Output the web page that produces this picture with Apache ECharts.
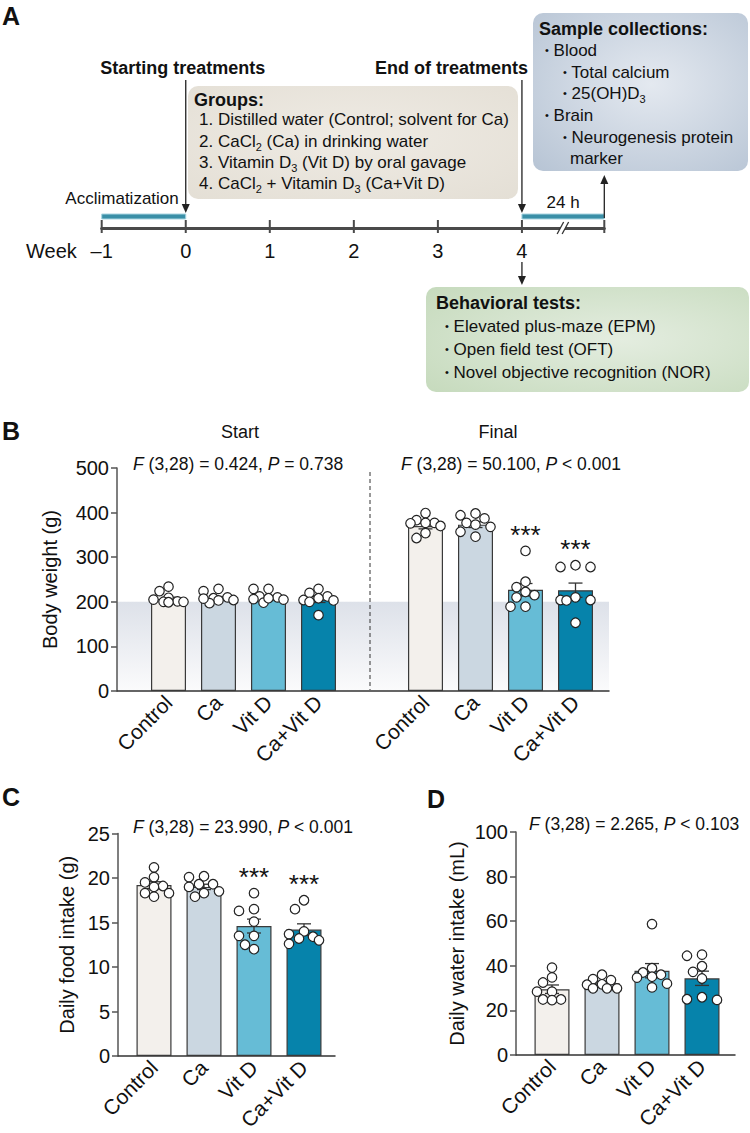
<!DOCTYPE html>
<html><head><meta charset="utf-8">
<script src="https://cdn.jsdelivr.net/npm/echarts/dist/echarts.min.js"></script>
<style>html,body{margin:0;padding:0;background:#fff}#c{width:750px;height:1133px}</style>
</head><body><div id="c"></div>
<script>
// ================= DATA =================
const groups = ['Control', 'Ca', 'Vit D', 'Ca+Vit D'];

// Panel A timeline (weeks)
const weekTicks = [-1, 0, 1, 2, 3, 4];
const timelineEnd = 4.98;                 // sample collection (24 h after week 4, axis broken)
const periodStart = [-1, 4];
const periodEnd = [0, 4.98];
const periodLabels = ['Acclimatization', '24 h'];
const eventWeeks = [0, 4];
const eventLabels = ['Starting treatments', 'End of treatments'];
const outcomeWeeks = [4, 4.98];
const groupLines = [
  '1. Distilled water (Control; solvent for Ca)',
  '2. CaCl{s|2} (Ca) in drinking water',
  '3. Vitamin D{s|3} (Vit D) by oral gavage',
  '4. CaCl{s|2} + Vitamin D{s|3} (Ca+Vit D)'
];
const sampleTitle = 'Sample collections:';
const sampleLines = ['Blood', 'Total calcium', '25(OH)D{s|3}', 'Brain', 'Neurogenesis protein', 'marker'];
const behaviorTitle = 'Behavioral tests:';
const behaviorLines = ['Elevated plus-maze (EPM)', 'Open field test (OFT)', 'Novel objective recognition (NOR)'];

// Panel B body weight (g)
const bwStartMean = [206, 208, 210, 205];
const bwStartSem = [4.3, 3.8, 3.6, 6.5];
const bwStartPoints = [
  [234, 224, 205, 209, 201, 200, 200, 199],
  [224, 229, 208, 210, 203, 204, 197, 207],
  [229, 229, 210, 212, 206, 205, 198, 208],
  [229, 220, 212, 208, 203, 204, 200, 170]
];
const bwFinalMean = [370, 373, 227, 226];
const bwFinalSem = [6.5, 6.5, 14, 16];
const bwFinalPoints = [
  [399, 383, 377, 376, 377, 370, 354, 343],
  [394, 398, 387, 377, 373, 368, 357, 346],
  [314, 245, 233, 222, 215, 210, 189, 189],
  [282, 278, 278, 210, 204, 204, 203, 153]
];
const bwStartSig = ['', '', '', ''];
const bwFinalSig = ['', '', '***', '***'];
const bwTicks = [0, 100, 200, 300, 400, 500];
const bwBand = [0, 200];

// Panel C daily food intake (g)
const foodMean = [19.2, 19.0, 14.6, 14.2];
const foodSem = [0.38, 0.3, 0.78, 0.65];
const foodPoints = [
  [21.2, 20.1, 19.5, 19.1, 19.0, 18.3, 18.3, 17.9],
  [20.2, 20.1, 19.3, 19.3, 19.0, 18.5, 18.3, 17.9],
  [18.3, 16.5, 16.3, 15.1, 13.5, 13.5, 12.5, 12.0],
  [17.5, 16.5, 14.0, 13.7, 13.4, 13.2, 13.0, 12.6]
];
const foodSig = ['', '', '***', '***'];
const foodTicks = [0, 5, 10, 15, 20, 25];

// Panel D daily water intake (mL)
const waterMean = [29.5, 32.2, 37.8, 34.4];
const waterSem = [1.9, 0.9, 3.2, 3.2];
const waterPoints = [
  [39.2, 34.8, 32.5, 28.4, 28.4, 24.9, 24.9, 24.6],
  [36.0, 34.0, 33.6, 31.7, 31.5, 29.9, 29.9, 29.9],
  [58.7, 38.9, 37.0, 36.0, 35.1, 34.7, 32.0, 30.3],
  [45.0, 44.5, 39.8, 37.3, 34.3, 25.9, 25.0, 24.7]
];
const waterSig = ['', '', '', ''];
const waterTicks = [0, 20, 40, 60, 80, 100];

const statTexts = {
  start: '{i|F} (3,28) = 0.424, {i|P} = 0.738',
  final: '{i|F} (3,28) = 50.100, {i|P} < 0.001',
  food: '{i|F} (3,28) = 23.990, {i|P} < 0.001',
  water: '{i|F} (3,28) = 2.265, {i|P} < 0.103'
};

// ================= STYLE / LAYOUT =================
const FONT = '"Liberation Sans", Arial, Helvetica, sans-serif';
const INK = '#111';
const barColors = ['#f3f0ec', '#cbd7e1', '#66bcd6', '#0683ab'];
const PT = 9.5; // point diameter

const grids = [], xAxes = [], yAxes = [], series = [], graphics = [];

function txt(x, y, text, o) {
  o = o || {};
  const align = o.align || 'left';
  const st = {
    text: text, fontFamily: FONT, fontSize: o.fontSize || 17, fontWeight: o.fontWeight || 'normal',
    fill: INK, align: align, textAlign: align, verticalAlign: 'middle', textVerticalAlign: 'middle',
    lineHeight: o.lineHeight || 22
  };
  if (o.rich) st.rich = o.rich;
  return { type: 'text', x: x, y: y, z: 20, silent: true, style: st };
}
function richBase(fs) {
  return {
    i: { fontStyle: 'italic', fontSize: fs, fontFamily: FONT, fill: INK, lineHeight: 22 },
    s: { fontSize: 11, fontFamily: FONT, fill: INK, lineHeight: 12, verticalAlign: 'bottom' },
    b: { fontSize: 11, fontFamily: FONT, fill: INK, lineHeight: 22 }
  };
}

// simple swarm: computes horizontal pixel offsets so points don't stack
function swarm(vals, pxPerUnit) {
  const order = vals.map((v, i) => i).sort((a, b) => vals[b] - vals[a]);
  const cands = [0, -9, 9, -15, 15, -5, 5, -12, 12];
  const placed = [], off = new Array(vals.length).fill(0);
  order.forEach(i => {
    const y = vals[i] * pxPerUnit;
    let best = 0, bestD = -1;
    for (const c of cands) {
      let md = Infinity;
      for (const p of placed) md = Math.min(md, Math.hypot(c - p.x, y - p.y));
      if (md >= PT) { best = c; break; }
      if (md > bestD) { bestD = md; best = c; }
    }
    placed.push({ x: best, y: y });
    off[i] = best;
  });
  return off;
}

function addPanel(p) {
  // outer frame grid: y axis + baseline
  grids.push({ left: p.left, top: p.top, width: p.width, height: p.height, outerBoundsMode: 'none' });
  const go = grids.length - 1;
  xAxes.push({ gridIndex: go, type: 'value', min: 0, max: 1, axisLine: { show: true, onZero: false, lineStyle: { color: '#333', width: 1.5 } },
    axisTick: { show: false }, axisLabel: { show: false }, splitLine: { show: false } });
  const xo = xAxes.length - 1;
  const yMax = p.ticks[p.ticks.length - 1], yInt = p.ticks[1] - p.ticks[0];
  yAxes.push({ gridIndex: go, type: 'value', min: 0, max: yMax, interval: yInt,
    name: p.yName, nameLocation: 'middle', nameGap: p.nameGap, nameRotate: 90,
    nameTextStyle: { fontSize: 20, color: INK, fontFamily: FONT },
    axisLine: { show: true, onZero: false, lineStyle: { color: '#555', width: 1.5 } },
    axisTick: { show: true, length: 6, lineStyle: { color: '#555', width: 1.5 } },
    axisLabel: { fontSize: 20, color: INK, margin: 8, fontFamily: FONT },
    splitLine: { show: false } });
  const yo = yAxes.length - 1;
  if (p.band) {
    series.push({ type: 'line', xAxisIndex: xo, yAxisIndex: yo, data: [[0, 0]], symbol: 'none', silent: true, z: 0,
      lineStyle: { opacity: 0 },
      markArea: { silent: true, z: 0, itemStyle: { color: { type: 'linear', x: 0, y: 0, x2: 0, y2: 1,
        colorStops: [{ offset: 0, color: '#dde1e9' }, { offset: 1, color: '#fbfbfc' }] } },
        data: [[{ yAxis: p.band[1], xAxis: 0 }, { yAxis: p.band[0], xAxis: 1 }]] } });
  }
  const pxPerUnit = p.height / yMax;
  p.sets.forEach(s => {
    grids.push({ left: s.left, top: p.top, width: 200, height: p.height, outerBoundsMode: 'none' });
    const gi = grids.length - 1;
    xAxes.push({ gridIndex: gi, type: 'category', data: groups, axisLine: { show: false }, axisTick: { show: false },
      axisLabel: { rotate: 45, interval: 0, fontSize: 21, color: INK, margin: 8, fontFamily: FONT } });
    const xi = xAxes.length - 1;
    yAxes.push({ gridIndex: gi, type: 'value', min: 0, max: yMax, show: false });
    const yi = yAxes.length - 1;
    series.push({ type: 'bar', xAxisIndex: xi, yAxisIndex: yi, barWidth: 35, z: 2, silent: true,
      data: s.mean.map((m, i) => ({ value: m, itemStyle: { color: barColors[i], borderColor: '#3a3a3a', borderWidth: 1.2 } })) });
    const sig = s.sig;
    series.push({ type: 'custom', xAxisIndex: xi, yAxisIndex: yi, z: 3, silent: true,
      data: s.mean.map((m, i) => [i, m, s.sem[i], Math.max.apply(null, s.points[i])]),
      renderItem: function (params, api) {
        const i = api.value(0), m = api.value(1), e = api.value(2), mx = api.value(3);
        const t = api.coord([i, m + e]), b = api.coord([i, m - e]);
        const x = t[0], cw = 7;
        const ls = { stroke: '#333', lineWidth: 1.3 };
        const ch = [
          { type: 'line', shape: { x1: x, y1: t[1], x2: x, y2: b[1] }, style: ls },
          { type: 'line', shape: { x1: x - cw, y1: t[1], x2: x + cw, y2: t[1] }, style: ls },
          { type: 'line', shape: { x1: x - cw, y1: b[1], x2: x + cw, y2: b[1] }, style: ls }
        ];
        const sg = sig[params.dataIndex];
        if (sg) {
          const pm = api.coord([i, mx]);
          ch.push({ type: 'text', x: x, y: pm[1] - 16, style: { text: sg, fontSize: 26, fontFamily: FONT, fill: INK,
            align: 'center', verticalAlign: 'middle', textAlign: 'center', textVerticalAlign: 'middle' } });
        }
        return { type: 'group', children: ch };
      } });
    const pts = [];
    s.points.forEach((arr, i) => {
      const off = swarm(arr, pxPerUnit);
      arr.forEach((v, k) => pts.push({ value: [i, v], symbolOffset: [off[k], 0] }));
    });
    series.push({ type: 'scatter', xAxisIndex: xi, yAxisIndex: yi, z: 4, silent: true, symbol: 'circle', symbolSize: PT,
      itemStyle: { color: '#fff', borderColor: '#222', borderWidth: 1.2, opacity: 1 }, data: pts });
  });
}

// ---- Panel B ----
addPanel({ left: 117, top: 468, width: 492, height: 223, ticks: bwTicks, yName: 'Body weight (g)', nameGap: 57, band: bwBand,
  sets: [
    { left: 143.5, mean: bwStartMean, sem: bwStartSem, points: bwStartPoints, sig: bwStartSig },
    { left: 400.5, mean: bwFinalMean, sem: bwFinalSem, points: bwFinalPoints, sig: bwFinalSig }
  ] });
// ---- Panel C ----
addPanel({ left: 118, top: 833.5, width: 217, height: 222.5, ticks: foodTicks, yName: 'Daily food intake (g)', nameGap: 41,
  sets: [{ left: 129, mean: foodMean, sem: foodSem, points: foodPoints, sig: foodSig }] });
// ---- Panel D ----
addPanel({ left: 516, top: 832, width: 219, height: 223, ticks: waterTicks, yName: 'Daily water intake (mL)', nameGap: 49,
  sets: [{ left: 527, mean: waterMean, sem: waterSem, points: waterPoints, sig: waterSig }] });

// ---- Panel A timeline ----
grids.push({ left: 101.7, top: 190, width: 502.6, height: 38, outerBoundsMode: 'none' });
const gT = grids.length - 1;
xAxes.push({ gridIndex: gT, type: 'value', min: weekTicks[0], max: timelineEnd, interval: 1,
  axisLine: { show: true, onZero: false, lineStyle: { color: '#4a4a4a', width: 3 } }, axisTick: { show: false }, splitLine: { show: false },
  axisLabel: { fontSize: 20, color: INK, margin: 13, fontFamily: FONT, showMaxLabel: false,
    formatter: v => (Math.abs(v - Math.round(v)) < 1e-6 && weekTicks.indexOf(Math.round(v)) >= 0) ? (v < 0 ? '\u2013' + Math.abs(v) : String(v)) : '' } });
const xT = xAxes.length - 1;
yAxes.push({ gridIndex: gT, type: 'value', min: 0, max: 1, show: false });
const yT = yAxes.length - 1;

function arrow(x, y1, y2) {
  const dir = y2 > y1 ? 1 : -1, hl = 9, hw = 4;
  return [
    { type: 'line', shape: { x1: x, y1: y1, x2: x, y2: y2 - dir * hl }, style: { stroke: '#222', lineWidth: 1.3 } },
    { type: 'polygon', shape: { points: [[x - hw, y2 - dir * hl], [x + hw, y2 - dir * hl], [x, y2]] }, style: { fill: '#222' } }
  ];
}
function tstyle(text, align, fs, fw) {
  return { text: text, fontSize: fs, fontWeight: fw || 'normal', fontFamily: FONT, fill: INK,
    align: align, textAlign: align, verticalAlign: 'middle', textVerticalAlign: 'middle' };
}

// ticks on timeline
series.push({ type: 'custom', xAxisIndex: xT, yAxisIndex: yT, z: 3, silent: true,
  data: weekTicks.concat([timelineEnd]).map(w => [w, 0]),
  renderItem: (params, api) => {
    const p = api.coord([api.value(0), 0]);
    return { type: 'line', shape: { x1: p[0], y1: p[1] - 8, x2: p[0], y2: p[1] + 5 }, style: { stroke: '#4a4a4a', lineWidth: 2 } };
  } });
// periods (teal bars) + labels + axis break
const periodLabelAlign = ['right', 'center'];
const periodHasBreak = [false, true];
series.push({ type: 'custom', xAxisIndex: xT, yAxisIndex: yT, z: 4, silent: true,
  data: periodStart.map((s, i) => [s, periodEnd[i]]),
  renderItem: (params, api) => {
    const i = params.dataIndex;
    const a = api.coord([api.value(0), 0]), b = api.coord([api.value(1), 0]);
    const by = a[1];
    const ch = [{ type: 'rect', shape: { x: a[0], y: by - 14, width: b[0] - a[0], height: 5 },
      style: { fill: '#3a8fa7', stroke: '#a9d5e1', lineWidth: 1 } }];
    const al = periodLabelAlign[i];
    ch.push({ type: 'text', x: al === 'right' ? b[0] - 7 : (a[0] + b[0]) / 2, y: al === 'right' ? by - 30 : by - 26,
      style: tstyle(periodLabels[i], al, 17) });
    if (periodHasBreak[i]) {
      const cx = (a[0] + b[0]) / 2;
      ch.push({ type: 'polygon', shape: { points: [[cx - 5.5, by + 5], [cx + 0.5, by - 6], [cx + 5.5, by - 6], [cx - 0.5, by + 5]] }, style: { fill: '#fff' } });
      ch.push({ type: 'line', shape: { x1: cx - 6, x2: cx + 0.5, y1: by + 6, y2: by - 6 }, style: { stroke: '#333', lineWidth: 1.3 } });
      ch.push({ type: 'line', shape: { x1: cx - 1, x2: cx + 5.5, y1: by + 6, y2: by - 6 }, style: { stroke: '#333', lineWidth: 1.3 } });
    }
    return { type: 'group', children: ch };
  } });
// treatment events
const eventLabelAlign = ['center', 'right'];
const eventLabelDx = [-3, 6];
series.push({ type: 'custom', xAxisIndex: xT, yAxisIndex: yT, z: 4, silent: true,
  data: eventWeeks.map(w => [w, 0]),
  renderItem: (params, api) => {
    const i = params.dataIndex;
    const p = api.coord([api.value(0), 0]);
    const ch = arrow(p[0], p[1] - 148, p[1] - 15);
    ch.push({ type: 'text', x: p[0] + eventLabelDx[i], y: p[1] - 160, style: tstyle(eventLabels[i], eventLabelAlign[i], 18, 'bold') });
    return { type: 'group', children: ch };
  } });
// outcome arrows (behavioral tests below week 4, sampling above end)
const outcomeDir = [1, -1];
series.push({ type: 'custom', xAxisIndex: xT, yAxisIndex: yT, z: 4, silent: true,
  data: outcomeWeeks.map(w => [w, 0]),
  renderItem: (params, api) => {
    const i = params.dataIndex;
    const p = api.coord([api.value(0), 0]);
    const ch = outcomeDir[i] > 0 ? arrow(p[0], p[1] + 34, p[1] + 57) : arrow(p[0], p[1] - 10, p[1] - 53);
    return { type: 'group', children: ch };
  } });

// ---- Graphic: boxes & texts ----
const R17 = richBase(17), R18 = richBase(17.5);
graphics.push({ type: 'rect', z: 1, silent: true, shape: { x: 188, y: 86, width: 330, height: 113, r: 10 },
  style: { fill: { type: 'radial', x: 0.5, y: 0.45, r: 0.8, colorStops: [{ offset: 0, color: '#efebe4' }, { offset: 1, color: '#e3ded4' }] } } });
graphics.push({ type: 'rect', z: 1, silent: true, shape: { x: 533, y: 13, width: 215, height: 158, r: 10 },
  style: { fill: { type: 'radial', x: 0.55, y: 0.45, r: 0.75, colorStops: [{ offset: 0, color: '#e4e9f0' }, { offset: 1, color: '#b8c5d5' }] } } });
graphics.push({ type: 'rect', z: 1, silent: true, shape: { x: 426, y: 287, width: 323, height: 105, r: 10 },
  style: { fill: { type: 'radial', x: 0.6, y: 0.5, r: 0.75, colorStops: [{ offset: 0, color: '#e4ede0' }, { offset: 1, color: '#c7dbbe' }] } } });

graphics.push(txt(2, 16, 'A', { fontSize: 25, fontWeight: 'bold' }));
graphics.push(txt(2, 431, 'B', { fontSize: 25, fontWeight: 'bold' }));
graphics.push(txt(2, 797, 'C', { fontSize: 25, fontWeight: 'bold' }));
graphics.push(txt(427, 799, 'D', { fontSize: 25, fontWeight: 'bold' }));

graphics.push(txt(194, 100, 'Groups:', { fontSize: 18, fontWeight: 'bold' }));
const groupLineY = [119.5, 141, 162, 183];
groupLines.forEach((t, i) => graphics.push(txt(199, groupLineY[i], t, { rich: R17 })));

graphics.push(txt(539, 29, sampleTitle, { fontSize: 18, fontWeight: 'bold' }));
const sampleX = [545, 563, 563, 545, 563, 570];
const sampleY = [50, 72, 93, 115, 137, 158];
const sampleBullet = [true, true, true, true, true, false];
sampleLines.forEach((t, i) => graphics.push(txt(sampleX[i], sampleY[i], (sampleBullet[i] ? '{b|\u2022} ' : '') + t, { rich: R17 })));

graphics.push(txt(436, 303, behaviorTitle, { fontSize: 18, fontWeight: 'bold' }));
const behaviorY = [326, 349, 372];
behaviorLines.forEach((t, i) => graphics.push(txt(445, behaviorY[i], '{b|\u2022} ' + t, { rich: R17 })));

graphics.push(txt(26, 251, 'Week', { fontSize: 20 }));

// Panel B headings / stats
graphics.push(txt(240, 432, 'Start', { fontSize: 18, align: 'center' }));
graphics.push(txt(498, 432, 'Final', { fontSize: 18, align: 'center' }));
graphics.push(txt(133, 464, statTexts.start, { fontSize: 17.5, rich: R18 }));
graphics.push(txt(401, 464, statTexts.final, { fontSize: 17.5, rich: R18 }));
graphics.push(txt(133, 827, statTexts.food, { fontSize: 17.5, rich: R18 }));
graphics.push(txt(529, 824, statTexts.water, { fontSize: 17.5, rich: R18 }));
// divider between Start and Final
graphics.push({ type: 'line', z: 5, silent: true, shape: { x1: 370, y1: 472, x2: 370, y2: 690 },
  style: { stroke: '#333', lineWidth: 1, lineDash: [4, 3] } });

const chart = echarts.init(document.getElementById('c'), null, { renderer: 'svg' });
chart.setOption({
  animation: false,
  backgroundColor: '#fff',
  textStyle: { fontFamily: FONT },
  grid: grids, xAxis: xAxes, yAxis: yAxes, series: series, graphic: graphics
});
</script></body></html>
